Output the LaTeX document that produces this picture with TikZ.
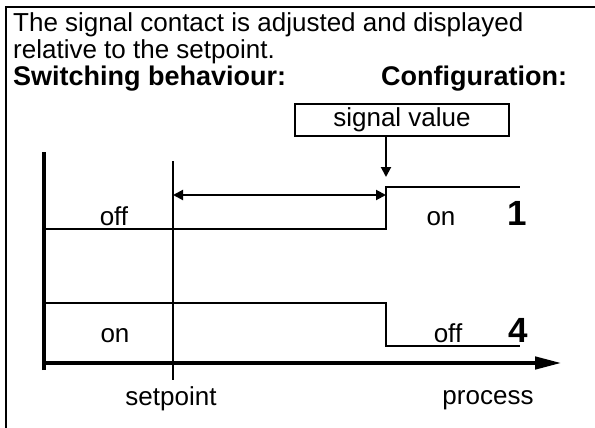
\documentclass[tikz,border=0pt]{standalone}
\usepackage{fontspec}
\setmainfont{Liberation Sans}
\usetikzlibrary{arrows.meta}
\tikzset{
  txt/.style={font=\fontsize{26}{30}\selectfont, inner sep=0pt, anchor=base west},
  head/.style={txt, font=\fontsize{27}{30}\selectfont\bfseries},
  lbl/.style={font=\fontsize{26}{30}\selectfont, inner sep=0pt, anchor=base},
  num/.style={font=\fontsize{35}{40}\selectfont\bfseries, inner sep=0pt, anchor=base},
  sig/.style={line width=2pt},
  axisline/.style={line width=4.5pt},
  small tip/.style={-{Triangle[length=10pt, width=10pt]}},
}
\begin{document}
\begin{tikzpicture}[x=1pt,y=-1pt]
	\useasboundingbox (0,0) rectangle (595,428);
	% Frame
	\draw[line width=2pt] (6,428) -- (6,7) -- (595,7);

	% Heading
	\node[txt] (line1) at (13,32) {The signal contact is adjusted and displayed};
	\node[txt] (line2) at (13,59) {relative to the setpoint.};
	\node[head] (switching) at (13,86) {Switching behaviour:};
	\node[head] (config) at (381,86) {Configuration:};

	% Signal value box
	\node[draw, sig, minimum width=214pt, minimum height=31pt, inner sep=0pt,
		font=\fontsize{26}{30}\selectfont] (signal) at (402,120) {signal value};

	% Points of the switching lines
	\coordinate (origin) at (44,363);
	\coordinate (ytop) at (44,152);
	\coordinate (ybot) at (44,370);
	\coordinate (xend) at (562,363);
	\coordinate (sptop) at (173,161);
	\coordinate (spbot) at (173,380);
	\coordinate (tip) at (386,177);
	\coordinate (a1) at (44,229);
	\coordinate (b1) at (386,229);
	\coordinate (c1) at (386,187);
	\coordinate (d1) at (520,187);
	\coordinate (a4) at (44,303);
	\coordinate (b4) at (386,303);
	\coordinate (c4) at (386,346);
	\coordinate (d4) at (520,346);
	\coordinate (dl) at (173,195);
	\coordinate (dr) at (386,195);

	% Axes
	\draw[axisline] (ybot) -- (ytop);
	\draw[axisline, -{Triangle[length=27pt, width=12pt]}] (origin) -- (xend);
	\draw[sig] (sptop) -- (spbot);

	% Configuration 1
	\draw[sig] (a1) -- (b1) -- (c1) -- (d1);
	\draw[sig, small tip] (signal.south -| tip) -- (tip);
	\draw[sig, {Triangle[length=10pt, width=10pt]}-{Triangle[length=10pt, width=10pt]}] (dl) -- (dr);
	\node[lbl] (off1) at (114,225) {off};
	\node[lbl] (on1) at (441,225) {on};
	\node[num] (one) at (517,225) {1};

	% Configuration 4
	\draw[sig] (a4) -- (b4) -- (c4) -- (d4);
	\node[lbl] (on4) at (115,342) {on};
	\node[lbl] (off4) at (448,342) {off};
	\node[num] (four) at (518,342) {4};

	% Axis labels
	\node[lbl] (setpoint) at (171,405) {setpoint};
	\node[lbl] (process) at (488,404) {process};
\end{tikzpicture}
\end{document}
